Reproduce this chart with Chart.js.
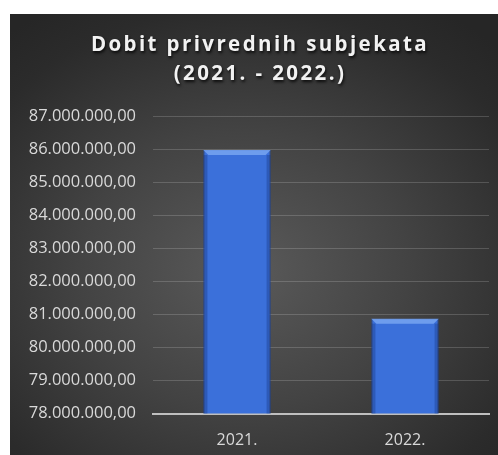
<!DOCTYPE html>
<html>
<head>
<meta charset="utf-8">
<script src="https://cdn.jsdelivr.net/npm/chart.js@4"></script>
<style>
  html, body { margin: 0; padding: 0; background: #fff; }
  #wrap {
    position: absolute; left: 10px; top: 14px; width: 488px; height: 441px;
    background: radial-gradient(ellipse 75% 70% at 48% 58%, #5a5a5a 0%, #434343 45%, #2b2b2b 85%, #262626 100%);
  }
</style>
</head>
<body>
<div id="wrap"><canvas id="myChart"></canvas></div>
<script>
const godine = ['2021.', '2022.'];
const dobit = [85970000, 80870000];
const naslov = ['Dobit privrednih subjekata', '(2021. - 2022.)'];

const ctx = document.getElementById('myChart');

function formatBroj(v) {
    const cijeli = Math.round(v).toString().replace(/\B(?=(\d{3})+(?!\d))/g, '.');
    return cijeli + ',00';
}

// naslov sa razmakom slova i sjenom
const naslovPlugin = {
    id: 'naslov',
    afterDraw(chart) {
        const c = chart.ctx;
        c.save();
        c.font = 'bold 20.5px "Open Sans"';
        c.letterSpacing = '2.4px';
        c.fillStyle = '#f2f2f2';
        c.textAlign = 'center';
        c.textBaseline = 'middle';
        c.shadowColor = 'rgba(0,0,0,0.8)';
        c.shadowBlur = 3;
        c.shadowOffsetX = 1;
        c.shadowOffsetY = 2;
        c.fillText(naslov[0], 250, 31);
        c.fillText(naslov[1], 250, 60);
        c.restore();
    }
};

// svijetla kosina na vrhu stubova
const kosinaPlugin = {
    id: 'kosina',
    afterDatasetsDraw(chart) {
        const c = chart.ctx;
        const dno = chart.chartArea.bottom;
        chart.getDatasetMeta(0).data.forEach(bar => {
            const l = bar.x - bar.width / 2, r = bar.x + bar.width / 2, t = bar.y;
            c.save();
            c.fillStyle = 'rgba(120,165,240,0.85)';
            c.beginPath();
            c.moveTo(l, t); c.lineTo(r, t); c.lineTo(r - 5, t + 5); c.lineTo(l + 5, t + 5);
            c.closePath(); c.fill();
            c.fillStyle = 'rgba(20,50,120,0.35)';
            c.fillRect(l, t + 5, 4, dno - t - 5);
            c.fillRect(r - 4, t + 5, 4, dno - t - 5);
            c.restore();
        });
    }
};

const chart = new Chart(ctx, {
    type: 'bar',
    data: {
        labels: godine,
        datasets: [{
            label: 'Dobit',
            data: dobit,
            backgroundColor: '#3b70da',
            borderColor: '#2452ad',
            borderWidth: 1,
            barPercentage: 0.8,
            categoryPercentage: 0.5
        }]
    },
    options: {
        responsive: true,
        maintainAspectRatio: false,
        animation: false,
        layout: { padding: { top: 102, right: 9, left: 0, bottom: 0 } },
        plugins: {
            legend: { display: false },
            title: { display: false },
            tooltip: { enabled: false }
        },
        scales: {
            y: {
                min: 78000000,
                max: 87000000,
                afterFit(s) { s.width = 143; },
                ticks: {
                    stepSize: 1000000,
                    padding: 17,
                    color: '#d9d9d9',
                    font: { family: '"Open Sans"', size: 16.5 },
                    callback: v => formatBroj(v)
                },
                grid: { color: 'rgba(255,255,255,0.17)', drawTicks: false },
                border: { display: false }
            },
            x: {
                afterFit(s) { s.height = 41.5; },
                ticks: {
                    padding: 9,
                    color: '#d9d9d9',
                    font: { family: '"Open Sans"', size: 16 }
                },
                grid: { display: false },
                border: { color: '#bfbfbf', width: 2 }
            }
        }
    },
    plugins: [naslovPlugin, kosinaPlugin]
});
</script>
</body>
</html>
